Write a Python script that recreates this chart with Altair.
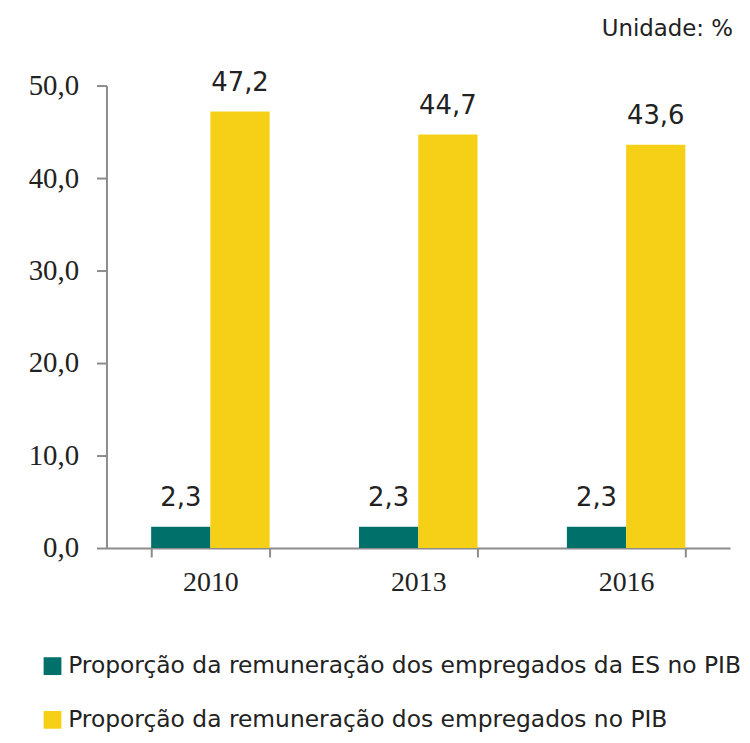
import altair as alt
import pandas as pd

years = ["2010", "2013", "2016"]
series = [
    "Proporção da remuneração dos empregados da ES no PIB",
    "Proporção da remuneração dos empregados no PIB",
]
es_values = [2.3, 2.3, 2.3]
total_values = [47.2, 44.7, 43.6]
colors = ["#00706B", "#F6D016"]

rows = []
for i, y in enumerate(years):
    rows.append({"ano": y, "serie": series[0], "valor": es_values[i]})
    rows.append({"ano": y, "serie": series[1], "valor": total_values[i]})
df = pd.DataFrame(rows)

x_enc = alt.X(
    "ano:N",
    title=None,
    scale=alt.Scale(paddingInner=0.43, paddingOuter=0.215),
    axis=alt.Axis(
        labelAngle=0,
        labelFont="Liberation Serif",
        labelFontSize=28,
        labelColor="#222222",
        labelPadding=12,
        tickBand="extent",
        tickSize=9,
        tickColor="#8c8c8c",
        domainColor="#8c8c8c",
        domainWidth=2,
        tickWidth=2,
    ),
)
xoff = alt.XOffset("serie:N", sort=series, scale=alt.Scale(paddingInner=0))

base = alt.Chart(df)

bars = base.mark_bar().encode(
    x=x_enc,
    xOffset=xoff,
    y=alt.Y(
        "valor:Q",
        title=None,
        scale=alt.Scale(domain=[0, 50], nice=False),
        axis=alt.Axis(
            values=[0, 10, 20, 30, 40, 50],
            labelExpr="replace(format(datum.value, '.1f'), '.', ',')",
            labelFont="Liberation Serif",
            labelFontSize=29,
            labelColor="#222222",
            labelPadding=18,
            tickSize=10,
            tickColor="#8c8c8c",
            domainColor="#8c8c8c",
            domainWidth=2,
            tickWidth=2,
            grid=False,
        ),
    ),
    color=alt.Color(
        "serie:N",
        sort=series,
        scale=alt.Scale(domain=series, range=colors),
        legend=alt.Legend(
            title=None,
            orient="none",
            legendX=-66,
            legendY=572,
            direction="vertical",
            symbolType="square",
            symbolSize=320,
            symbolStrokeWidth=0,
            labelFont="DejaVu Sans",
            labelFontSize=23.5,
            labelColor="#222222",
            labelLimit=900,
            labelOffset=4,
            rowPadding=29,
        ),
    ),
)

labels = base.mark_text(
    baseline="alphabetic",
    dy=-21,
    font="DejaVu Sans",
    fontSize=26,
    color="#222222",
).encode(
    x=alt.X("ano:N"),
    xOffset=xoff,
    y=alt.Y("valor:Q"),
    text=alt.Text("rotulo:N"),
).transform_calculate(rotulo="replace(format(datum.valor, '.1f'), '.', ',')")

chart = (
    alt.layer(bars, labels)
    .properties(
        width=627,
        height=465,
        padding={"left": 20, "top": 8, "right": 0, "bottom": 0},
        title=alt.TitleParams(
            "Unidade: %",
            anchor="end",
            frame="group",
            font="DejaVu Sans",
            fontSize=23,
            fontWeight="normal",
            color="#222222",
            dx=3,
            offset=29,
        ),
    )
    .configure_view(stroke=None)
)

chart.save("out.html", embed_options={"renderer": "svg", "actions": False})
